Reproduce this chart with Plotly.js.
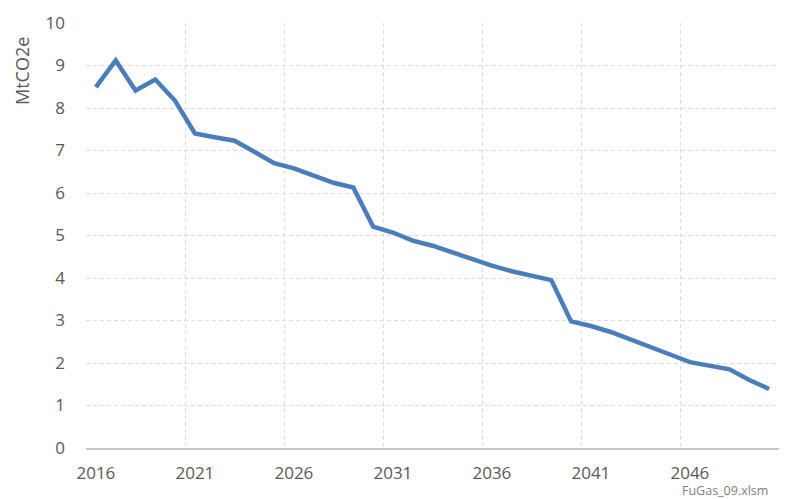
<!DOCTYPE html>
<html>
<head>
<meta charset="utf-8">
<script src="https://cdn.plot.ly/plotly-3.0.1.min.js"></script>
<style>html,body{margin:0;padding:0;background:#fff;}#chart{width:800px;height:499px;}</style>
</head>
<body>
<div id="chart"></div>
<script>
const years = [2016,2017,2018,2019,2020,2021,2022,2023,2024,2025,2026,2027,2028,2029,2030,2031,2032,2033,2034,2035,2036,2037,2038,2039,2040,2041,2042,2043,2044,2045,2046,2047,2048,2049,2050];
const emissions = [8.49,9.12,8.41,8.67,8.17,7.40,7.31,7.23,6.97,6.70,6.58,6.42,6.24,6.13,5.21,5.07,4.88,4.76,4.60,4.44,4.29,4.16,4.06,3.95,2.98,2.87,2.73,2.56,2.37,2.20,2.02,1.94,1.85,1.60,1.39];
const tickYears = [2016,2021,2026,2031,2036,2041,2046];
const gridBounds = [2015.5,2020.5,2025.5,2030.5,2035.5,2040.5,2045.5,2050.5];
const yTicks = [0,1,2,3,4,5,6,7,8,9,10];

const fontFam = '"Open Sans", "Noto Sans", sans-serif';
const data = [{
  x: years, y: emissions, type: 'scatter', mode: 'lines',
  line: {color: '#4a7ebb', width: 4.5}, hoverinfo: 'skip'
}, {
  x: [2016], y: [null], xaxis: 'x2', yaxis: 'y', type: 'scatter', mode: 'lines', hoverinfo: 'skip'
}];
const layout = {
  width: 800, height: 499,
  margin: {l: 86, r: 21, t: 23, b: 51},
  paper_bgcolor: '#fff', plot_bgcolor: '#fff',
  showlegend: false,
  font: {family: fontFam, size: 17, color: '#595959'},
  xaxis: {
    range: [2015.5, 2050.5], tickvals: tickYears, ticktext: tickYears.map(String),
    showgrid: false, zeroline: false, showline: true, linecolor: '#c8c8c8', linewidth: 1.5,
    ticks: '', tickfont: {size: 17, color: '#595959'}, ticklabelstandoff: 9
  },
  xaxis2: {
    overlaying: 'x', matches: 'x', range: [2015.5, 2050.5], tickvals: gridBounds,
    showticklabels: false, showgrid: true, gridcolor: '#dcdcdc', griddash: '4px,3px', gridwidth: 1,
    zeroline: false, showline: false, ticks: ''
  },
  yaxis: {
    range: [0, 10], tickvals: yTicks, showgrid: true, gridcolor: '#dcdcdc', griddash: '4px,3px', gridwidth: 1,
    zeroline: false, showline: false, ticks: '', tickfont: {size: 17, color: '#595959'},
    ticklabelstandoff: 20
  },
  annotations: [{
    xref: 'paper', yref: 'paper', x: -0.0924, y: 0.887, xanchor: 'center', yanchor: 'middle',
    text: 'MtCO2e', textangle: -90, showarrow: false, font: {size: 18, color: '#595959'}
  }, {
    xref: 'paper', yref: 'paper', x: 0.857, y: -0.101, xanchor: 'left', yanchor: 'middle',
    text: 'FuGas_09.xlsm', showarrow: false, font: {size: 12.5, color: '#7f7f7f'}
  }]
};
Plotly.newPlot('chart', data, layout, {displayModeBar: false, staticPlot: true});
</script>
</body>
</html>
